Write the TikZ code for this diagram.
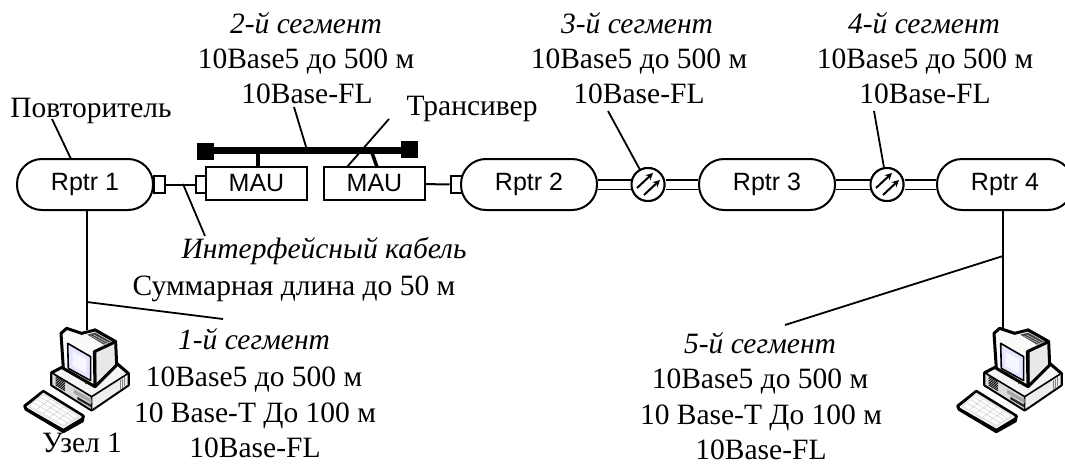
\documentclass[tikz,border=0pt]{standalone}
\usetikzlibrary{arrows.meta}
\usepackage{fontspec}
\setmainfont{Liberation Serif}
\newfontfamily\rptrfont{Liberation Sans}
\newcommand{\compdraw}[1]{%
\begin{scope}[shift={(#1,320)},x=0.3333pt,y=-0.3333pt,line join=round]
 % keyboard
 \draw[line width=3pt,fill=white] (74,258)--(130,214)--(250,288)--(247,303)--(190,335)--(78,268)--cycle;
 \fill[black] (78,262)--(190,326)--(248,291)--(247,303)--(190,335)--(78,268)--cycle;
 \fill[gray!20] (82,260)--(190,322)--(245,289)--(130,218)--cycle;
 \fill[white] (92,258)--(190,314)--(232,288)--(130,226)--cycle;
 \draw[gray!40,line width=.5pt] (104,250)--(202,308) (115,241)--(213,300) (125,233)--(222,294);
 \draw[gray!40,line width=.5pt] (110,268)--(150,238) (130,279)--(170,250) (150,291)--(190,262) (170,302)--(210,274);
 % base
 \draw[line width=3pt,fill=gray!8] (155,158)--(190,140)--(350,130)--(385,160)--(385,195)--(275,270)--(155,195)--cycle;
 \fill[gray!28] (157,160)--(275,230)--(275,268)--(157,194)--cycle;
 \fill[gray!14] (275,230)--(383,161)--(383,194)--(275,268)--cycle;
 \draw[line width=1.6pt] (155,158)--(275,230)--(385,160) (275,230)--(275,270);
 \foreach \k in {0,1,2,3,4,5} \draw[black,line width=.8pt] (167,{170+\k*5})--(195,{187+\k*5});
 \draw[gray,line width=.9pt] (360,180)--(360,207) (366,176)--(366,203) (372,172)--(372,199);
 \fill[gray!70] (222,208)--(275,238)--(275,250)--(222,220)--cycle;
 \fill[black!85] (232,230)--(275,255)--(275,263)--(232,238)--cycle;
 % monitor
 \draw[line width=3pt,fill=gray!18] (285,30)--(347,65)--(350,135)--(285,200)--cycle;
 \draw[line width=3pt,fill=gray!4] (183,40)--(200,25)--(245,40)--(285,30)--(347,65)--(283,95)--(285,200)--(190,145)--cycle;
 \fill[black!75] (262,44)--(285,38)--(333,65)--(312,74)--cycle;
 \draw[gray!50,line width=.6pt] (272,47)--(320,72) (280,44)--(327,69);
 \draw[line width=1.6pt,fill=blue!10] (203,70)--(272,110)--(272,182)--(205,145)--cycle;
 \fill[blue!3] (218,95)--(258,118)--(258,160)--(218,138)--cycle;
 \fill[green!50!black] (258,190) circle[radius=3];
\end{scope}}
\begin{document}
\begin{tikzpicture}[x=1pt,y=-1pt,
  rptr/.style={draw,line width=2pt,fill=white,rounded corners=25pt,minimum width=136pt,minimum height=51pt,inner sep=0pt,font=\rptrfont\fontsize{25}{28}\selectfont},
  mau/.style={draw,line width=2pt,fill=white,minimum width=101pt,minimum height=33pt,inner sep=0pt,font=\rptrfont\fontsize{25}{28}\selectfont},
  port/.style={draw,line width=2pt,fill=white,minimum width=11pt,minimum height=17pt,inner sep=0pt},
  endcap/.style={fill=black,minimum width=17pt,minimum height=17pt,inner sep=0pt},
  lab/.style={font=\fontsize{29.5}{32}\selectfont,inner sep=0pt,anchor=base},
  ital/.style={lab,font=\fontsize{29.5}{32}\selectfont\itshape},
  lead/.style={line width=1.8pt},
  fibre/.style={line width=1.8pt,double=white,double distance=8pt},
  conv/.style={circle,draw,line width=2pt,fill=white,minimum size=33pt,inner sep=0pt}]
\useasboundingbox (0,0) rectangle (1065,463);
\clip (0,0) rectangle (1065,463);
% texts
\node[ital] (s2) at (306,33) {2-й сегмент};
\node[lab] (s2a) at (306,68) {10Base5 до 500 м};
\node[lab] (s2b) at (307,103) {10Base-FL};
\node[ital] (s3) at (637,33) {3-й сегмент};
\node[lab] (s3a) at (639,68) {10Base5 до 500 м};
\node[lab] (s3b) at (639,103) {10Base-FL};
\node[ital] (s4) at (924,33) {4-й сегмент};
\node[lab] (s4a) at (925,68) {10Base5 до 500 м};
\node[lab] (s4b) at (925,103) {10Base-FL};
\node[lab] (rep) at (91,117) {Повторитель};
\node[lab] (trans) at (472,115) {Трансивер};
\node[ital] (ifc) at (324,258) {Интерфейсный кабель};
\node[lab] (sum) at (294,295) {Суммарная длина до 50 м};
\node[ital] (s1) at (254,349) {1-й сегмент};
\node[lab] (s1a) at (254,386) {10Base5 до 500 м};
\node[lab] (s1b) at (255,422) {10 Base-T До 100 м};
\node[lab] (s1c) at (255,457) {10Base-FL};
\node[lab] (n1) at (82,452) {Узел 1};
\node[ital] (s5) at (760,353) {5-й сегмент};
\node[lab] (s5a) at (760,388) {10Base5 до 500 м};
\node[lab] (s5b) at (761,424) {10 Base-T До 100 м};
\node[lab] (s5c) at (761,459) {10Base-FL};
% coordinates
\coordinate (top1) at (87,330);
\coordinate (top4) at (1003,330);
\coordinate (r1b) at (87,210);
\coordinate (r4b) at (1003,210);
\coordinate (drop1) at (87,302);
\coordinate (drop4) at (1003,256);
\coordinate (e1) at (223,319);
\coordinate (e5) at (785,325);
\coordinate (busL) at (205,150);
\coordinate (busR) at (409,150);
\coordinate (tap1) at (258,150);
\coordinate (tap1b) at (258,167);
\coordinate (tap2) at (371,150);
\coordinate (tap2b) at (377,167);
\coordinate (tapS) at (307,150);
\coordinate (f2) at (294,107);
\coordinate (f3) at (608,111);
\coordinate (f4) at (874,111);
\coordinate (fr) at (52,119);
\coordinate (ft) at (389,119);
\coordinate (ti) at (347,167);
\coordinate (fi) at (205,236);
\coordinate (ci) at (183,184);
\coordinate (rt) at (71,159);
% computers
\compdraw{0}
\compdraw{933}
% drops and leaders
\draw[lead] (top1)--(r1b);
\draw[lead] (top4)--(r4b);
\draw[lead] (drop1)--(e1);
\draw[lead] (drop4)--(e5);
% bus
\node[endcap] (cl) at (205,151) {};
\node[endcap] (cr) at (409,149) {};
\draw[line width=7pt] (busL)--(busR);
\draw[lead] (f2)--(tapS);
\draw[lead] (fr)--(rt);
\draw[lead] (ft)--(ti);
\draw[lead] (ci)--(fi);
% devices
\node[port] (p1) at (159,184.5) {};
\node[port] (p2) at (201,184.5) {};
\node[port] (p3) at (456,184.5) {};
\node[rptr] (r1) at (85,184.5) {Rptr 1};
\node[mau] (m1) at (256.5,183.5) {MAU};
\node[mau] (m2) at (374.5,183.5) {MAU};
\node[rptr] (r2) at (529,184.5) {Rptr 2};
\node[rptr] (r3) at (767,184.5) {Rptr 3};
\node[rptr] (r4) at (1005,184.5) {Rptr 4};
\draw[line width=3.5pt] (tap1)--(tap1b);
\draw[line width=3.5pt] (tap2)--(tap2b);
\draw[line width=2pt] (p1)--(p2);
\draw[line width=2pt] (m2)--(p3);
\node[conv] (c1) at (648,184.5) {};
\node[conv] (c2) at (887,184.5) {};
\draw[fibre] (r2.east)--(c1.west);
\draw[fibre] (c1.east)--(r3.west);
\draw[fibre] (r3.east)--(c2.west);
\draw[fibre] (c2.east)--(r4.west);
\draw[lead] (f3)--(c1);
\draw[lead] (f4)--(c2);
\foreach \c in {c1,c2}{
 \node[conv] at (\c) {};
 \draw[line width=2pt,-{Stealth[length=7pt,width=7pt]}] ([shift={(-11,3.5)}]\c.center)--([shift={(5,-11.5)}]\c.center);
 \draw[line width=2pt,-{Stealth[length=7pt,width=7pt]}] ([shift={(-4,10.5)}]\c.center)--([shift={(12,-4.5)}]\c.center);
}
\end{tikzpicture}
\end{document}
